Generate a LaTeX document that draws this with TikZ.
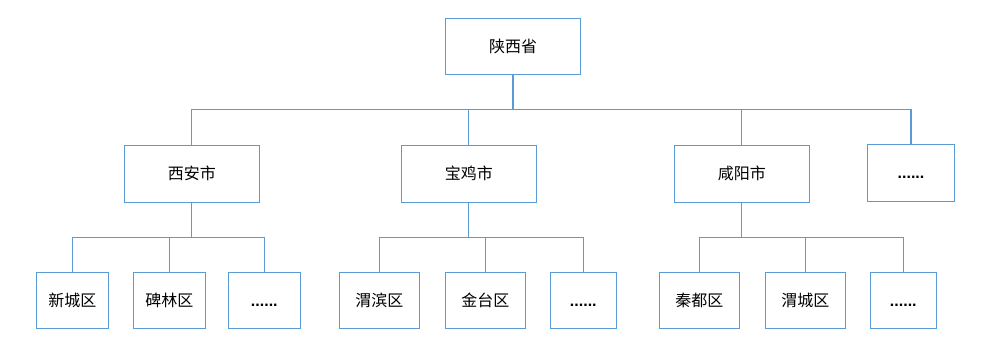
\documentclass[tikz,border=0pt]{standalone}
\usepackage{fontspec}
\setmainfont{Noto Sans CJK SC}
\newfontfamily\dotfont{Liberation Sans}
\definecolor{lineblue}{HTML}{5B9BD5}
\tikzset{
  box/.style={draw=lineblue, line width=0.8pt, fill=white, inner sep=0pt, font=\fontsize{12pt}{14pt}\selectfont},
  wide/.style={box, minimum width=101pt, minimum height=42.5pt},
  small/.style={box, minimum width=65.5pt, minimum height=42.5pt},
  leaf/.style={box, minimum width=54pt, minimum height=42.5pt},
  leafw/.style={box, minimum width=60pt, minimum height=42.5pt},
  leafn/.style={box, minimum width=49.5pt, minimum height=42.5pt},
  conn/.style={draw=lineblue, line width=0.8pt}
}
\newcommand{\moredots}{\vphantom{西}{\dotfont\bfseries ......}}
\begin{document}
\begin{tikzpicture}[x=0.75pt,y=-0.75pt]
\useasboundingbox (0,0) rectangle (986,359);
% root
\node[wide] (root) at (513,46.6) {陕西省};
% level 2
\node[wide] (xa) at (191.8,173.8) {西安市};
\node[wide] (bj) at (468.8,173.8) {宝鸡市};
\node[wide] (xy) at (741.8,173.8) {咸阳市};
\node[small] (o2) at (911,172.8) {\moredots};
% level 3 - Xi'an
\node[leaf] (xc) at (72.3,300.6) {新城区};
\node[leaf] (bl) at (169.3,300.6) {碑林区};
\node[leaf] (o31) at (264.3,300.6) {\moredots};
% level 3 - Baoji
\node[leafw] (wb) at (379.3,300.6) {渭滨区};
\node[leafw] (jt) at (485.3,300.6) {金台区};
\node[leafn] (o32) at (583.3,300.6) {\moredots};
% level 3 - Xianyang
\node[leafw] (qd) at (699.3,300.6) {秦都区};
\node[leafw] (wc) at (805.3,300.6) {渭城区};
\node[leafn] (o33) at (903.3,300.6) {\moredots};
% buses
\coordinate (b1) at (513,109.5);
\coordinate (b2) at (191.8,237.5);
\coordinate (b3) at (468.8,237.5);
\coordinate (b4) at (741.8,237.5);
% connectors
\draw[conn] (root.south) -- (b1);
\foreach \c in {xa,bj,xy,o2} \draw[conn] (b1) -| (\c.north);
\draw[conn] (xa.south) -- (b2);
\foreach \c in {xc,bl,o31} \draw[conn] (b2) -| (\c.north);
\draw[conn] (bj.south) -- (b3);
\foreach \c in {wb,jt,o32} \draw[conn] (b3) -| (\c.north);
\draw[conn] (xy.south) -- (b4);
\foreach \c in {qd,wc,o33} \draw[conn] (b4) -| (\c.north);
\end{tikzpicture}
\end{document}
